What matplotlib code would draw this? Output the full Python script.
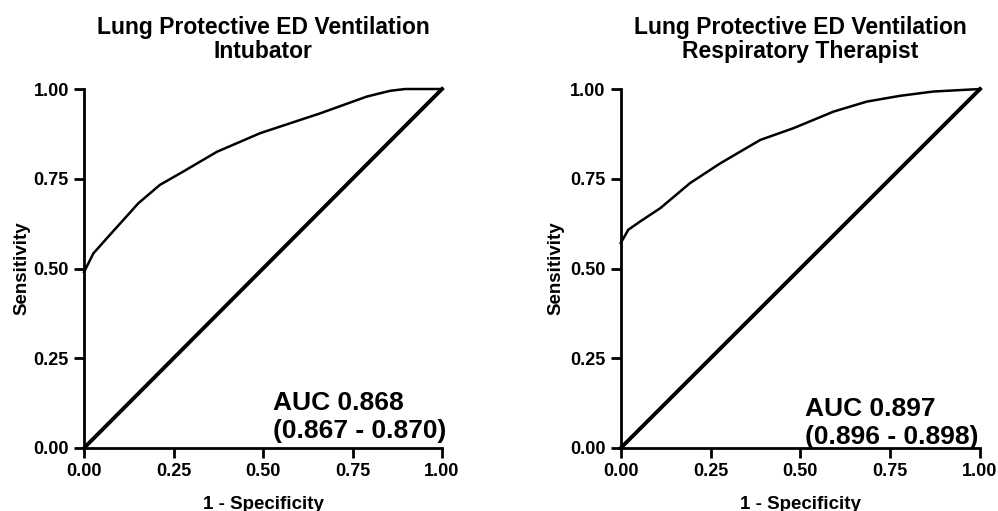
import matplotlib
matplotlib.use("Agg")
import matplotlib.pyplot as plt

plt.rcParams['font.family'] = ['Liberation Sans', 'DejaVu Sans']
plt.rcParams['font.weight'] = 'bold'

# Intubator ROC curve
fpr_intubator = [0.0, 0.026, 0.068, 0.152, 0.212, 0.277, 0.371, 0.492, 0.659, 0.79, 0.855, 0.897, 1.0]
tpr_intubator = [0.49, 0.542, 0.589, 0.682, 0.733, 0.770, 0.825, 0.877, 0.932, 0.979, 0.995, 1.0, 1.0]

# Respiratory therapist ROC curve
fpr_rt = [0.0, 0.021, 0.054, 0.11, 0.193, 0.277, 0.388, 0.481, 0.592, 0.685, 0.777, 0.870, 1.0]
tpr_rt = [0.571, 0.608, 0.631, 0.668, 0.738, 0.793, 0.858, 0.891, 0.937, 0.965, 0.981, 0.993, 1.0]

titles = ["Lung Protective ED Ventilation\nIntubator",
          "Lung Protective ED Ventilation\nRespiratory Therapist"]
auc_texts = ["AUC 0.868\n(0.867 - 0.870)", "AUC 0.897\n(0.896 - 0.898)"]
ticks = [0.0, 0.25, 0.5, 0.75, 1.0]
tick_labels = ["0.00", "0.25", "0.50", "0.75", "1.00"]

fig = plt.figure(figsize=(9.98, 5.11), dpi=100)
positions = [[0.0842, 0.1233, 0.3587, 0.7025], [0.622, 0.1233, 0.360, 0.7025]]
auc_pos = [(0.528, 0.028), (0.513, 0.012)]
ylabel_pads = [2, 4]
data = [(fpr_intubator, tpr_intubator), (fpr_rt, tpr_rt)]

for i in range(2):
    ax = fig.add_axes(positions[i])
    fx, ty = data[i]
    ax.plot(fx, ty, color='black', lw=1.8, solid_joinstyle='round')
    ax.plot([0, 1], [0, 1], color='black', lw=2.8)
    ax.set_xlim(0, 1)
    ax.set_ylim(0, 1)
    for s in ['top', 'right']:
        ax.spines[s].set_visible(False)
    for s in ['left', 'bottom']:
        ax.spines[s].set_linewidth(2)
    ax.set_xticks(ticks)
    ax.set_xticklabels(tick_labels)
    ax.set_yticks(ticks)
    ax.set_yticklabels(tick_labels)
    ax.tick_params(direction='out', length=7, width=2, labelsize=13, pad=4)
    for lab in ax.get_xticklabels() + ax.get_yticklabels():
        lab.set_fontweight('bold')
    ax.set_xlabel("1 - Specificity", fontsize=13.5, fontweight='bold', labelpad=11)
    ax.set_ylabel("Sensitivity", fontsize=13.5, fontweight='bold', labelpad=ylabel_pads[i])
    ax.set_title(titles[i], fontsize=16.5, fontweight='bold', pad=22, linespacing=1.08)
    ax.text(auc_pos[i][0], auc_pos[i][1], auc_texts[i], fontsize=19, fontweight='bold',
            ha='left', va='baseline', linespacing=1.22, transform=ax.transData)
    for line in ax.lines:
        line.set_clip_on(False)

fig.savefig("out.png", dpi=100)
